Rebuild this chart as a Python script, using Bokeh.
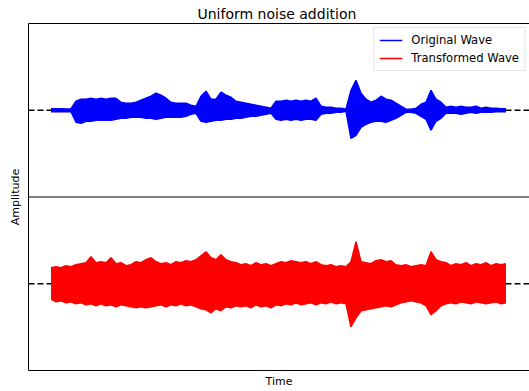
import numpy as np
from bokeh.plotting import figure
from bokeh.models import Range1d, LinearAxis, Span, Legend, LegendItem, FixedTicker
from bokeh.embed import file_html
from bokeh.resources import INLINE

# Envelope of each waveform, one min/max pair per 50 ms bin (seconds, amplitude)
BIN = 0.05

orig_upper = [0.015, 0.015, 0.015, 0.013, 0.015,
              0.09, 0.11, 0.11, 0.12, 0.11, 0.12, 0.11, 0.12, 0.12,
              0.08, 0.07, 0.07, 0.08, 0.10, 0.12, 0.14, 0.17, 0.15, 0.12,
              0.08, 0.07, 0.07, 0.07, 0.05, 0.04,
              0.14, 0.19, 0.11, 0.11, 0.18, 0.15, 0.13, 0.09, 0.08, 0.07,
              0.06, 0.05, 0.04, 0.03, 0.02,
              0.09, 0.09, 0.10, 0.09, 0.10, 0.09, 0.10, 0.09, 0.12,
              0.04, 0.03, 0.03, 0.02, 0.02, 0.01,
              0.20, 0.30, 0.17, 0.11, 0.08, 0.10, 0.14, 0.11, 0.10, 0.07,
              0.04, 0.01, 0.01, 0.02, 0.06, 0.08, 0.20, 0.11, 0.08,
              0.03, 0.04, 0.03, 0.04, 0.03, 0.03, 0.04, 0.02, 0.03, 0.02, 0.02, 0.015, 0.015]

orig_lower = [-0.015, -0.015, -0.015, -0.013, -0.015,
              -0.12, -0.13, -0.11, -0.11, -0.10, -0.10, -0.10, -0.10, -0.09,
              -0.08, -0.08, -0.07, -0.07, -0.07, -0.08, -0.08, -0.09, -0.08, -0.07,
              -0.07, -0.07, -0.07, -0.06, -0.04, -0.03,
              -0.11, -0.12, -0.11, -0.10, -0.10, -0.09, -0.09, -0.08, -0.08, -0.07,
              -0.06, -0.06, -0.05, -0.04, -0.03,
              -0.09, -0.10, -0.09, -0.10, -0.09, -0.10, -0.09, -0.09, -0.10,
              -0.04, -0.03, -0.03, -0.02, -0.02, -0.01,
              -0.28, -0.25, -0.17, -0.14, -0.12, -0.11, -0.11, -0.12, -0.10, -0.08,
              -0.05, -0.02, -0.02, -0.03, -0.06, -0.09, -0.20, -0.11, -0.08,
              -0.03, -0.03, -0.03, -0.04, -0.03, -0.02, -0.03, -0.02, -0.02, -0.02, -0.015, -0.015, -0.015]

noisy_upper = [0.16, 0.17, 0.16, 0.18, 0.17, 0.19, 0.20, 0.21, 0.27, 0.21,
               0.22, 0.21, 0.26, 0.20, 0.21, 0.18, 0.19, 0.22, 0.21, 0.24,
               0.26, 0.22, 0.20, 0.21, 0.19, 0.22, 0.21, 0.23, 0.22, 0.24,
               0.28, 0.32, 0.26, 0.24, 0.29, 0.24, 0.22, 0.21, 0.19, 0.20,
               0.18, 0.21, 0.19, 0.20, 0.18, 0.20, 0.22, 0.21, 0.23, 0.22,
               0.21, 0.22, 0.20, 0.22, 0.19, 0.18, 0.19, 0.17, 0.18, 0.17,
               0.22, 0.42, 0.22, 0.21, 0.20, 0.23, 0.24, 0.22, 0.23, 0.19,
               0.18, 0.19, 0.17, 0.18, 0.19, 0.18, 0.32, 0.24, 0.22, 0.21,
               0.18, 0.20, 0.19, 0.21, 0.18, 0.20, 0.19, 0.21, 0.18, 0.20, 0.19, 0.20]

noisy_lower = [-0.15, -0.18, -0.17, -0.19, -0.18, -0.20, -0.19, -0.21, -0.20, -0.22,
               -0.20, -0.22, -0.21, -0.23, -0.21, -0.22, -0.23, -0.24, -0.23, -0.24,
               -0.23, -0.22, -0.21, -0.23, -0.21, -0.22, -0.20, -0.22, -0.21, -0.23,
               -0.25, -0.26, -0.29, -0.25, -0.27, -0.23, -0.24, -0.22, -0.23, -0.22,
               -0.24, -0.21, -0.23, -0.22, -0.24, -0.21, -0.22, -0.20, -0.21, -0.19,
               -0.21, -0.20, -0.19, -0.21, -0.19, -0.20, -0.18, -0.20, -0.19, -0.20,
               -0.43, -0.34, -0.27, -0.26, -0.25, -0.24, -0.23, -0.22, -0.23, -0.21,
               -0.19, -0.18, -0.17, -0.18, -0.19, -0.22, -0.31, -0.27, -0.22, -0.20,
               -0.19, -0.20, -0.18, -0.19, -0.20, -0.18, -0.19, -0.20, -0.19, -0.18, -0.20, -0.19]

series_labels = ["Original Wave", "Transformed Wave"]

t = np.arange(len(orig_upper)) * BIN + BIN / 2

# Each panel spans +/-0.8675; the upper panel sits on the default range,
# the lower one on an extra range shifted by one panel height.
HALF = 0.8675
p = figure(width=529, height=391, output_backend="svg", toolbar_location=None,
           x_range=Range1d(-0.20, 4.81), y_range=Range1d(-3 * HALF, HALF),
           x_axis_location=None, y_axis_location=None,
           min_border_left=28, min_border_right=0, min_border_top=23, min_border_bottom=21)
p.extra_y_ranges = {"lower": Range1d(-HALF, 3 * HALF)}
p.grid.visible = False
p.outline_line_color = None

p.title.text = "Uniform noise addition"
p.title.align = "left"
p.title.offset = 169
p.title.vertical_align = "middle"
p.title.standoff = 2
p.title.text_font = "DejaVu Sans"
p.title.text_font_size = "14px"
p.title.text_font_style = "normal"
p.title.text_color = "black"


def bare_axis(label=None, **kw):
    return LinearAxis(ticker=FixedTicker(ticks=[]), axis_label=label,
                      major_tick_out=0, major_tick_in=0, minor_tick_out=0, minor_tick_in=0,
                      major_label_standoff=0, axis_line_color="black", axis_line_width=1,
                      axis_label_text_font="DejaVu Sans", axis_label_text_font_style="normal",
                      axis_label_text_font_size="11px", axis_label_text_color="black", **kw)


p.add_layout(bare_axis("Amplitude", axis_label_standoff=7), "left")
p.add_layout(bare_axis("Time", axis_label_standoff=4), "below")
p.add_layout(bare_axis(None, axis_label_standoff=0), "above")

# zero reference lines and the panel divider
for rng in ("default", "lower"):
    p.add_layout(Span(location=0, dimension="width", y_range_name=rng, line_color="black",
                      line_dash="6 3", line_width=1.5, level="underlay"))
p.add_layout(Span(location=-HALF, dimension="width", line_color="black", line_width=1))

p.varea(x=t, y1=orig_lower, y2=orig_upper, fill_color="#0000ff")
blue_edge = p.line(x=t, y=orig_upper, line_color="#0000ff", line_width=1.5)
p.line(x=t, y=orig_lower, line_color="#0000ff", line_width=1.5)

p.varea(x=t, y1=noisy_lower, y2=noisy_upper, y_range_name="lower", fill_color="#ff0000")
red_edge = p.line(x=t, y=noisy_upper, y_range_name="lower", line_color="#ff0000", line_width=1.5)
p.line(x=t, y=noisy_lower, y_range_name="lower", line_color="#ff0000", line_width=1.5)

legend = Legend(items=[LegendItem(label=series_labels[0], renderers=[blue_edge]),
                       LegendItem(label=series_labels[1], renderers=[red_edge])],
                location="top_right", margin=4, padding=5, spacing=4,
                glyph_width=23, glyph_height=14, label_height=14, label_standoff=9,
                label_text_font="DejaVu Sans", label_text_font_size="11.6px",
                label_text_color="black",
                border_line_color="#cccccc", border_line_width=1,
                background_fill_color="white", background_fill_alpha=0.8)
p.add_layout(legend)

open("out.html", "w").write(file_html(p, INLINE))
